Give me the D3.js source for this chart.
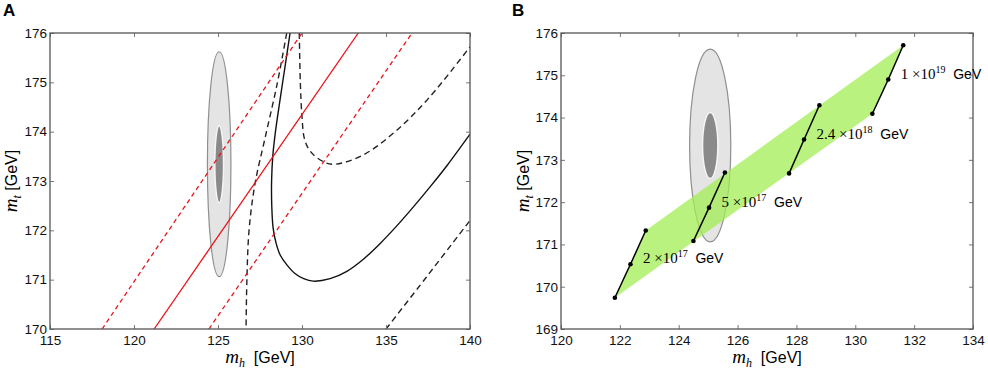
<!DOCTYPE html>
<html lang="en">
<head>
<meta charset="utf-8">
<title>mh - mt</title>
<script src="https://d3js.org/d3.v7.min.js"></script>
<style>
  body { margin: 0; background: #fff; }
  svg { display: block; }
  .tick text { font-family: "Liberation Sans", Arial, sans-serif; font-size: 13.5px; fill: #111; }
  .tick line { stroke: #777; }
  .frame { fill: none; stroke: #555; stroke-width: 1.3px; }
  .sans { font-family: "Liberation Sans", Arial, sans-serif; }
  .serif { font-family: "Liberation Serif", "Times New Roman", serif; }
</style>
</head>
<body>
<div id="chart"></div>
<script>
// ---- data: panel A ----
var xTicksA = [115, 120, 125, 130, 135, 140];
var yTicksA = [170, 171, 172, 173, 174, 175, 176];

// experimental ellipses (centre, semi-axes in GeV)
var ellipseCentre = [125.07, 173.34];
var outerAxes = [0.70, 2.28];
var innerAxes = [0.26, 0.78];

// red lines: [mh, mt]
var redSolid   = [[121.2, 170], [133.35, 176]];
var redDashLow = [[118.1, 170], [130.0, 176]];
var redDashHi  = [[124.46, 170], [136.55, 176]];

// black curves: [mh, mt]
var blackSolid = [[129.29, 176], [128.99, 175.32], [128.69, 174.64], [128.42, 174.0], [128.26, 173.5],
  [128.19, 173.0], [128.2, 172.5], [128.28, 172.05], [128.45, 171.75], [128.7, 171.5],
  [129.1, 171.3], [129.6, 171.12], [130.1, 171.02], [130.67, 170.97], [131.67, 171.02],
  [132.67, 171.17], [133.67, 171.42], [134.67, 171.74], [135.67, 172.1], [136.67, 172.49],
  [137.67, 172.9], [138.67, 173.33], [140, 173.95]];
var blackDashLeft = [[129.09, 176], [128.51, 174.95], [127.8, 173.87], [127.2, 172.94],
  [126.85, 172.01], [126.72, 171.0], [126.67, 170]];
var blackDashU = [[129.84, 176], [129.9, 175], [130.0, 174.3], [130.15, 173.85], [130.5, 173.6],
  [131.27, 173.39], [131.96, 173.34], [133.65, 173.53], [135.64, 174.03], [137.62, 174.71],
  [140, 175.72]];
var blackDashLow = [[135.0, 170], [137.4, 171.05], [140, 172.2]];

// ---- data: panel B ----
var xTicksB = [120, 122, 124, 126, 128, 130, 132, 134];
var yTicksB = [169, 170, 171, 172, 173, 174, 175, 176];

// scale segments: bottom, middle, top points
var segMh = [[121.83, 122.36, 122.88], [124.50, 125.03, 125.57], [127.75, 128.26, 128.78], [130.58, 131.12, 131.63]];
var segMt = [[169.74, 170.53, 171.33], [171.08, 171.87, 172.70], [172.68, 173.48, 174.29], [174.09, 174.90, 175.71]];
var segMantissa = ["2", "5", "2.4", "1"];
var segExponent = ["17", "17", "18", "19"];

var width = 988, height = 372;
var svg = d3.select("#chart").append("svg")
  .attr("width", width)
  .attr("height", height);

function makePanel(opt) {
  var g = svg.append("g").attr("transform", "translate(" + opt.left + "," + opt.top + ")");
  var x = d3.scaleLinear().domain(opt.xDomain).range([0, opt.w]);
  var y = d3.scaleLinear().domain(opt.yDomain).range([opt.h, 0]);

  g.append("clipPath").attr("id", opt.id + "-clip")
    .append("rect").attr("width", opt.w).attr("height", opt.h);

  var plot = g.append("g").attr("clip-path", "url(#" + opt.id + "-clip)");

  // axes: ticks inward on all four sides
  g.append("g").attr("transform", "translate(0," + opt.h + ")")
    .call(d3.axisBottom(x).tickValues(opt.xTicks).tickFormat(d3.format("d")).tickSizeInner(-4).tickSizeOuter(0).tickPadding(6));
  g.append("g")
    .call(d3.axisLeft(y).tickValues(opt.yTicks).tickFormat(d3.format("d")).tickSizeInner(-4).tickSizeOuter(0).tickPadding(3));
  g.append("g")
    .call(d3.axisTop(x).tickValues(opt.xTicks).tickFormat("").tickSizeInner(-4).tickSizeOuter(0));
  g.append("g").attr("transform", "translate(" + opt.w + ",0)")
    .call(d3.axisRight(y).tickValues(opt.yTicks).tickFormat("").tickSizeInner(-4).tickSizeOuter(0));
  g.selectAll(".domain").remove();

  g.append("rect").attr("class", "frame").attr("width", opt.w).attr("height", opt.h);

  // axis labels
  var xl = g.append("text").attr("x", opt.w / 2).attr("y", opt.h + 34)
    .attr("text-anchor", "middle");
  xl.append("tspan").attr("class", "serif").attr("font-style", "italic").attr("font-size", 19).text("m");
  xl.append("tspan").attr("class", "serif").attr("font-style", "italic").attr("font-size", 12).attr("dy", 4).text("h");
  xl.append("tspan").attr("class", "sans").attr("font-size", 16).attr("dy", -4).text("\u00a0 [GeV]");

  var yl = g.append("text")
    .attr("transform", "translate(" + opt.yLabelX + "," + (opt.h / 2) + ") rotate(-90)")
    .attr("text-anchor", "middle");
  yl.append("tspan").attr("class", "serif").attr("font-style", "italic").attr("font-size", 19).text("m");
  yl.append("tspan").attr("class", "serif").attr("font-style", "italic").attr("font-size", 12).attr("dy", 4).text("t");
  yl.append("tspan").attr("class", "sans").attr("font-size", 16).attr("dy", -4).text("\u00a0[GeV]");

  svg.append("text").attr("class", "sans")
    .attr("x", opt.letterX).attr("y", 16)
    .attr("font-size", 17).attr("font-weight", "bold")
    .text(opt.letter);

  return { g: g, plot: plot, x: x, y: y };
}

function drawEllipses(p) {
  var cx = p.x(ellipseCentre[0]), cy = p.y(ellipseCentre[1]);
  p.plot.append("ellipse")
    .attr("cx", cx).attr("cy", cy)
    .attr("rx", p.x(ellipseCentre[0] + outerAxes[0]) - cx)
    .attr("ry", cy - p.y(ellipseCentre[1] + outerAxes[1]))
    .attr("fill", "#e4e4e4").attr("stroke", "#8f8f8f").attr("stroke-width", 1.2);
  p.plot.append("ellipse")
    .attr("cx", cx).attr("cy", cy)
    .attr("rx", p.x(ellipseCentre[0] + innerAxes[0]) - cx)
    .attr("ry", cy - p.y(ellipseCentre[1] + innerAxes[1]))
    .attr("fill", "#8a8a8a").attr("stroke", "#f4f4f4").attr("stroke-width", 1.5);
}

// ---- panel A ----
var A = makePanel({ id: "a", left: 50, top: 33, w: 420, h: 296,
  xDomain: [115, 140], yDomain: [170, 176], xTicks: xTicksA, yTicks: yTicksA,
  yLabelX: -33, letter: "A", letterX: 3 });

drawEllipses(A);

var lineA = d3.line().x(function(d) { return A.x(d[0]); }).y(function(d) { return A.y(d[1]); });
var curveA = d3.line().curve(d3.curveCatmullRom.alpha(0.5))
  .x(function(d) { return A.x(d[0]); }).y(function(d) { return A.y(d[1]); });

[[blackSolid, null], [blackDashLeft, "6,4"], [blackDashU, "6,4"], [blackDashLow, "6,4"]].forEach(function(c) {
  A.plot.append("path").datum(c[0])
    .attr("d", curveA)
    .attr("fill", "none")
    .attr("stroke", c[1] ? "#222" : "#111")
    .attr("stroke-width", 1.4)
    .attr("stroke-dasharray", c[1]);
});

[[redSolid, null], [redDashLow, "4.5,3.5"], [redDashHi, "4.5,3.5"]].forEach(function(c) {
  A.plot.append("path").datum(c[0])
    .attr("d", lineA)
    .attr("fill", "none")
    .attr("stroke", "#e8151b")
    .attr("stroke-width", 1.3)
    .attr("stroke-dasharray", c[1]);
});

// ---- panel B ----
var B = makePanel({ id: "b", left: 561, top: 33, w: 412, h: 296,
  xDomain: [120, 134], yDomain: [169, 176], xTicks: xTicksB, yTicks: yTicksB,
  yLabelX: -32, letter: "B", letterX: 512 });

drawEllipses(B);

var last = segMh.length - 1;
var band = [[segMh[0][0], segMt[0][0]], [segMh[last][0], segMt[last][0]],
            [segMh[last][2], segMt[last][2]], [segMh[0][2], segMt[0][2]]];

// band sits over the ellipses, a little see-through
B.plot.append("path").datum(band)
  .attr("d", d3.line().x(function(d) { return B.x(d[0]); }).y(function(d) { return B.y(d[1]); }).curve(d3.curveLinearClosed))
  .attr("fill", "#a2ee54")
  .attr("fill-opacity", 0.75)
  .attr("stroke", "none");

var segs = segMh.map(function(mh, i) {
  return { pts: mh.map(function(v, j) { return [v, segMt[i][j]]; }), man: segMantissa[i], exp: segExponent[i] };
});

var segG = B.plot.selectAll(".seg").data(segs).enter().append("g").attr("class", "seg");
segG.append("path")
  .attr("d", function(d) { return d3.line().x(function(p) { return B.x(p[0]); }).y(function(p) { return B.y(p[1]); })(d.pts); })
  .attr("fill", "none").attr("stroke", "#000").attr("stroke-width", 1.5);
segG.selectAll("circle").data(function(d) { return d.pts; }).enter().append("circle")
  .attr("cx", function(p) { return B.x(p[0]); })
  .attr("cy", function(p) { return B.y(p[1]); })
  .attr("r", 2.3).attr("fill", "#000");

var labels = B.g.selectAll(".seglabel").data(segs).enter().append("text")
  .attr("class", "seglabel")
  .attr("x", function(d) { return B.x(d.pts[1][0]) + 12.5; })
  .attr("y", function(d) { return B.y(d.pts[1][1]) - 1; });
labels.append("tspan").attr("class", "serif").attr("font-size", 15).text(function(d) { return d.man + " \u00d710"; });
labels.append("tspan").attr("class", "serif").attr("font-size", 10).attr("dy", -6).text(function(d) { return d.exp; });
labels.append("tspan").attr("class", "sans").attr("font-size", 14).attr("dy", 6).text("\u00a0\u00a0GeV");
</script>
</body>
</html>
